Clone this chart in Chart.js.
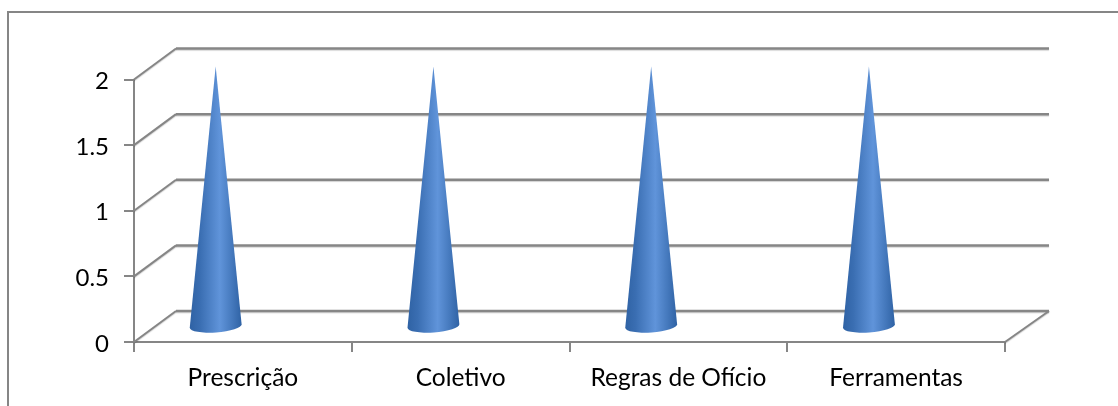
<!DOCTYPE html>
<html>
<head>
<meta charset="utf-8">
<style>
  html, body { margin: 0; padding: 0; background: #fff; overflow: hidden; }
  canvas { display: block; }
</style>
<script src="https://cdn.jsdelivr.net/npm/chart.js@4"></script>
</head>
<body>
<canvas id="grafico" width="1118" height="406"></canvas>
<script>
const categorias = ["Prescrição", "Coletivo", "Regras de Ofício", "Ferramentas"];
const valores = [2, 2, 2, 2];
const marcasY = ["0", "0.5", "1", "1.5", "2"];

const cinza = "#868686";
// profundidade da parede do fundo em relação ao eixo da frente
const fundoX = 42;
const fundoY = -31;

function linha(ctx, x1, y1, x2, y2, largura) {
    ctx.lineWidth = largura;
    ctx.beginPath();
    ctx.moveTo(x1, y1);
    ctx.lineTo(x2, y2);
    ctx.stroke();
}

// Moldura, parede do fundo e chão
const paredes = {
    id: "paredes",
    beforeDatasetsDraw(chart) {
        const { ctx, chartArea, scales } = chart;
        const esq = chartArea.left;
        const dir = chartArea.right;
        ctx.save();
        ctx.strokeStyle = cinza;
        ctx.lineCap = "butt";

        linha(ctx, 8, 12, 1118, 12, 2);
        linha(ctx, 8, 11, 8, 406, 2);

        // sombra leve por baixo das linhas do fundo
        ctx.shadowColor = "rgba(0,0,0,0.18)";
        ctx.shadowOffsetY = 1;
        ctx.shadowBlur = 1;

        scales.y.ticks.forEach(t => {
            const y = scales.y.getPixelForValue(t.value);
            linha(ctx, esq, y, esq + fundoX, y + fundoY, 2);
            linha(ctx, esq + fundoX, y + fundoY, dir + fundoX + 2, y + fundoY, 2.5);
        });

        const base = scales.y.getPixelForValue(0);
        linha(ctx, dir, base, dir + fundoX + 2, base + fundoY, 2);
        ctx.restore();
    }
};

// Cada barra é desenhada como um cone
const cones = {
    id: "cones",
    afterDatasetsDraw(chart) {
        const { ctx } = chart;
        chart.getDatasetMeta(0).data.forEach(barra => {
            const cx = barra.x - 27.2;
            const topo = barra.y - 13;
            const baseY = barra.base - 15;
            const rx = 26;
            const ry = 6.5;

            const grad = ctx.createLinearGradient(cx - rx, 0, cx + rx, 0);
            grad.addColorStop(0, "#2f62a4");
            grad.addColorStop(0.2, "#3a6eb2");
            grad.addColorStop(0.58, "#6094da");
            grad.addColorStop(0.82, "#4478bc");
            grad.addColorStop(1, "#2f62a4");

            ctx.save();
            ctx.fillStyle = grad;
            ctx.beginPath();
            ctx.moveTo(cx, topo);
            ctx.ellipse(cx, baseY, rx, ry, -0.07, 0, Math.PI);
            ctx.closePath();
            ctx.fill();
            ctx.restore();
        });
    }
};

new Chart(document.getElementById("grafico"), {
    type: "bar",
    data: {
        labels: categorias,
        datasets: [{
            data: valores,
            backgroundColor: "transparent",
            borderWidth: 0
        }]
    },
    plugins: [paredes, cones],
    options: {
        responsive: false,
        animation: false,
        layout: { padding: { left: 0, right: 113, top: 79.5, bottom: 0 } },
        plugins: { legend: { display: false }, tooltip: { enabled: false } },
        scales: {
            x: {
                afterFit: s => { s.height = 64; },
                border: { color: cinza, width: 2 },
                grid: { color: cinza, lineWidth: 2, drawOnChartArea: false, tickLength: 10, offset: true },
                ticks: {
                    color: "#000",
                    padding: 11,
                    maxRotation: 0,
                    autoSkip: false,
                    font: { family: "Lato", size: 24.5 }
                }
            },
            y: {
                min: 0,
                max: 2,
                afterFit: s => { s.width = 134; },
                border: { color: cinza, width: 2 },
                grid: { color: cinza, lineWidth: 2, drawOnChartArea: false, tickLength: 10 },
                ticks: {
                    stepSize: 0.5,
                    color: "#000",
                    padding: 15,
                    labelOffset: 2,
                    font: { family: "Lato", size: 24 },
                    callback: (v) => marcasY[Math.round(v * 2)]
                }
            }
        }
    }
});
</script>
</body>
</html>
